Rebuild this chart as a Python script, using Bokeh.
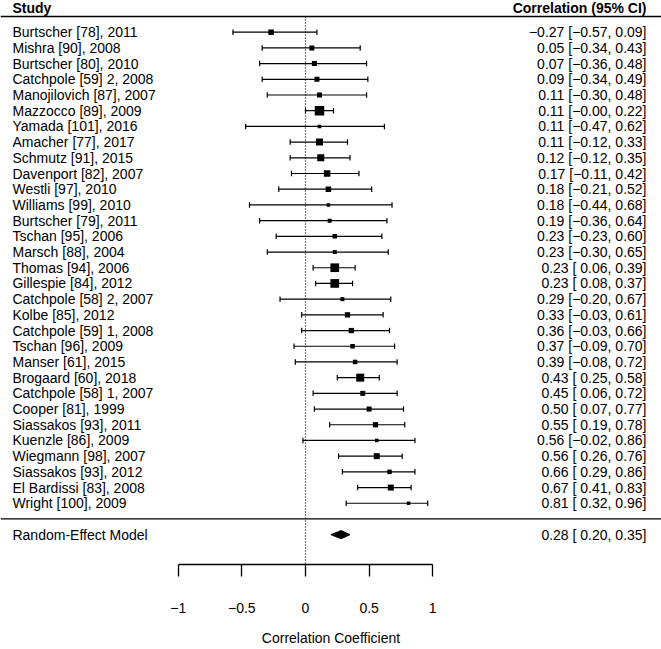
import math
from bokeh.plotting import figure
from bokeh.models import Range1d, FixedTicker, ColumnDataSource
from bokeh.core.properties import value
from bokeh.embed import file_html
from bokeh.resources import INLINE

# ---------------- data ----------------
studies = [
    "Burtscher [78], 2011", "Mishra [90], 2008", "Burtscher [80], 2010",
    "Catchpole [59] 2, 2008", "Manojilovich [87], 2007", "Mazzocco [89], 2009",
    "Yamada [101], 2016", "Amacher [77], 2017", "Schmutz [91], 2015",
    "Davenport [82], 2007", "Westli [97], 2010", "Williams [99], 2010",
    "Burtscher [79], 2011", "Tschan [95], 2006", "Marsch [88], 2004",
    "Thomas [94], 2006", "Gillespie [84], 2012", "Catchpole [58] 2, 2007",
    "Kolbe [85], 2012", "Catchpole [59] 1, 2008", "Tschan [96], 2009",
    "Manser [61], 2015", "Brogaard [60], 2018", "Catchpole [58] 1, 2007",
    "Cooper [81], 1999", "Siassakos [93], 2011", "Kuenzle [86], 2009",
    "Wiegmann [98], 2007", "Siassakos [93], 2012", "El Bardissi [83], 2008",
    "Wright [100], 2009",
]
estimate = [-0.27, 0.05, 0.07, 0.09, 0.11, 0.11, 0.11, 0.11, 0.12, 0.17, 0.18,
            0.18, 0.19, 0.23, 0.23, 0.23, 0.23, 0.29, 0.33, 0.36, 0.37, 0.39,
            0.43, 0.45, 0.50, 0.55, 0.56, 0.56, 0.66, 0.67, 0.81]
lower = [-0.57, -0.34, -0.36, -0.34, -0.30, -0.0, -0.47, -0.12, -0.12, -0.11,
         -0.21, -0.44, -0.36, -0.23, -0.30, 0.06, 0.08, -0.20, -0.03, -0.03,
         -0.09, -0.08, 0.25, 0.06, 0.07, 0.19, -0.02, 0.26, 0.29, 0.41, 0.32]
upper = [0.09, 0.43, 0.48, 0.49, 0.48, 0.22, 0.62, 0.33, 0.35, 0.42, 0.52,
         0.68, 0.64, 0.60, 0.65, 0.39, 0.37, 0.67, 0.61, 0.66, 0.70, 0.72,
         0.58, 0.72, 0.77, 0.78, 0.86, 0.76, 0.86, 0.83, 0.96]
# relative study weights (drawn as square side)
rel_weight = [5.5, 5, 5, 5, 5, 9.5, 3.5, 7, 7, 6.5, 5.5, 3.5, 4, 4.5, 4, 8.7,
              8.7, 4, 5.3, 5.3, 4.5, 4.5, 8, 5, 5, 5.3, 3.5, 6, 4.5, 6, 3.5]

pooled_label = "Random-Effect Model"
pooled_est, pooled_lo, pooled_hi = 0.28, 0.20, 0.35

tick_values = [-1, -0.5, 0, 0.5, 1]
tick_labels = ["\u22121", "\u22120.5", "0", "0.5", "1"]
x_title = "Correlation Coefficient"
left_header = "Study"
right_header = "Correlation (95% CI)"

# ---------------- helpers ----------------
def fmt(v):
    return f"{v:.2f}".replace("-", "\u2212")

def ci_label(e, lo, hi):
    lo_s = fmt(lo)
    pad = "" if lo_s.startswith("\u2212") else " "
    return f"{fmt(e)} [{pad}{lo_s}, {fmt(hi)}]"

FONT = value("Liberation Sans")
FS = "14px"

n = len(studies)
rows = list(range(1, n + 1))
sep_row = n + 1
pooled_row = n + 2

X_LEFT_TEXT = -2.302
X_RIGHT_TEXT = 2.679
X0, X1 = -2.396, 2.797
Y_TOP, Y_BOT = -1.019, 34.90
HEADER_Y = -0.573

p = figure(width=661, height=649, x_range=Range1d(X0, X1),
           y_range=Range1d(Y_BOT, Y_TOP), output_backend="svg",
           toolbar_location=None, min_border=0, min_border_bottom=85,
           y_axis_location=None)
p.grid.visible = False
p.outline_line_color = None
p.background_fill_color = "white"
p.border_fill_color = "white"

# header & separator lines
p.segment(x0=[X0, X0], x1=[X1, X1], y0=[0, sep_row], y1=[0, sep_row],
          line_color="black", line_width=1.3)

# reference dotted line at zero
p.segment(x0=[0], x1=[0], y0=[0], y1=[Y_BOT], line_color="black",
          line_width=1.2, line_dash="1 2")

src = ColumnDataSource(dict(
    y=rows, est=estimate, lo=lower, hi=upper,
    size=rel_weight, name=studies,
    ci=[ci_label(e, l, h) for e, l, h in zip(estimate, lower, upper)],
))

p.segment(x0="lo", x1="hi", y0="y", y1="y", source=src,
          line_color="black", line_width=1.2)
p.scatter(x="lo", y="y", source=src, marker="dash", angle=math.pi / 2,
          size=5.5, line_color="black", line_width=1.2)
p.scatter(x="hi", y="y", source=src, marker="dash", angle=math.pi / 2,
          size=5.5, line_color="black", line_width=1.2)
p.scatter(x="est", y="y", source=src, marker="square", size="size",
          fill_color="black", line_color="black", line_width=0)

# text columns
p.text(x=X_LEFT_TEXT, y="y", text="name", source=src, text_font=FONT,
       text_font_size=FS, text_baseline="middle", text_align="left",
       text_color="black")
p.text(x=X_RIGHT_TEXT, y="y", text="ci", source=src, text_font=FONT,
       text_font_size=FS, text_baseline="middle", text_align="right",
       text_color="black")

# headers
p.text(x=[X_LEFT_TEXT], y=[HEADER_Y], text=[left_header], text_font=FONT,
       text_font_size=FS, text_font_style="bold", text_baseline="middle",
       text_align="left", text_color="black")
p.text(x=[X_RIGHT_TEXT], y=[HEADER_Y], text=[right_header], text_font=FONT,
       text_font_size=FS, text_font_style="bold", text_baseline="middle",
       text_align="right", text_color="black")

# pooled estimate
h = 0.26
p.patch(x=[pooled_lo, pooled_est, pooled_hi, pooled_est],
        y=[pooled_row, pooled_row - h, pooled_row, pooled_row + h],
        fill_color="black", line_color="black", line_width=1)
p.text(x=[X_LEFT_TEXT], y=[pooled_row], text=[pooled_label], text_font=FONT,
       text_font_size=FS, text_baseline="middle", text_align="left",
       text_color="black")
p.text(x=[X_RIGHT_TEXT], y=[pooled_row],
       text=[ci_label(pooled_est, pooled_lo, pooled_hi)], text_font=FONT,
       text_font_size=FS, text_baseline="middle", text_align="right",
       text_color="black")

# axis
ax = p.xaxis[0]
ax.ticker = FixedTicker(ticks=tick_values, minor_ticks=[])
ax.bounds = (-1, 1)
ax.major_label_overrides = {t: l for t, l in zip(tick_values, tick_labels)}
ax.major_tick_in = 0
ax.major_tick_out = 12
ax.minor_tick_line_color = None
ax.axis_line_width = 1.3
ax.major_tick_line_width = 1.3
ax.axis_line_color = "black"
ax.major_tick_line_color = "black"
ax.major_label_text_font = "Liberation Sans"
ax.major_label_text_font_size = FS
ax.major_label_text_color = "black"
ax.major_label_standoff = 26
ax.axis_label = x_title
ax.axis_label_text_font = "Liberation Sans"
ax.axis_label_text_font_size = FS
ax.axis_label_text_font_style = "normal"
ax.axis_label_text_color = "black"
ax.axis_label_standoff = 14

open("out.html", "w").write(file_html(p, INLINE))
